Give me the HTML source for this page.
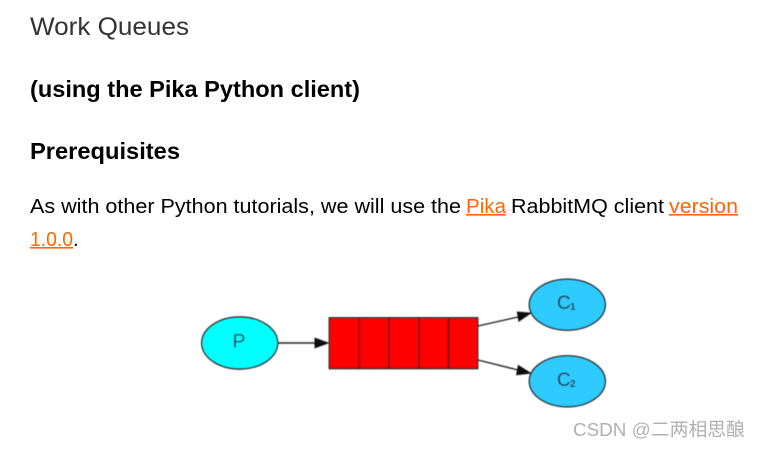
<!DOCTYPE html>
<html><head><meta charset="utf-8"><style>
html,body{margin:0;padding:0;background:#fff;width:760px;height:449px;overflow:hidden}
svg{display:block}
text{font-family:"Liberation Sans","Noto Sans CJK SC",sans-serif}
</style></head><body>
<svg width="760" height="449" viewBox="0 0 760 449" xmlns="http://www.w3.org/2000/svg">
<defs><filter id="b" x="-5%" y="-5%" width="110%" height="110%"><feGaussianBlur stdDeviation="0.4"/></filter></defs>
<rect width="760" height="449" fill="#fff"/>
<text x="30" y="35" font-size="25" fill="#333" textLength="159" lengthAdjust="spacingAndGlyphs">Work Queues</text>
<text x="30" y="97" font-size="23" font-weight="bold" fill="#000" textLength="330" lengthAdjust="spacingAndGlyphs">(using the Pika Python client)</text>
<text x="30" y="159" font-size="23" font-weight="bold" fill="#000" textLength="150" lengthAdjust="spacingAndGlyphs">Prerequisites</text>
<text x="30" y="213" font-size="20" fill="#000" textLength="431" lengthAdjust="spacingAndGlyphs">As with other Python tutorials, we will use the</text>
<text x="466" y="213" font-size="20" fill="#ff6600" textLength="40" lengthAdjust="spacingAndGlyphs">Pika</text>
<rect x="466" y="214" width="40" height="1.6" fill="#ff6600"/>
<text x="511" y="213" font-size="20" fill="#000" textLength="153" lengthAdjust="spacingAndGlyphs">RabbitMQ client</text>
<text x="669" y="213" font-size="20" fill="#ff6600" textLength="69" lengthAdjust="spacingAndGlyphs">version</text>
<rect x="669" y="214" width="69" height="1.6" fill="#ff6600"/>
<text x="30" y="246" font-size="20" fill="#ff6600" textLength="43" lengthAdjust="spacingAndGlyphs">1.0.0</text>
<rect x="30" y="247" width="43" height="1.6" fill="#ff6600"/>
<text x="73" y="246" font-size="20" fill="#000">.</text>

<g filter="url(#b)">
<g stroke="#222" stroke-width="1.4">
<ellipse cx="239.7" cy="343" rx="38" ry="26" fill="#00ffff"/>
<rect x="329.3" y="317.8" width="148.4" height="50.8" fill="#ff0000"/>
<path d="M359.3 318V368M389 318V368M419 318V368M448.5 318V368" fill="none" stroke="#400"/>
<ellipse cx="567.3" cy="304.7" rx="38" ry="25.5" fill="#2ecbff"/>
<ellipse cx="567.3" cy="381.3" rx="38" ry="25.5" fill="#2ecbff"/>
<path d="M278 343H316M478 326L518 317M478 360L518 370" fill="none"/>
</g>
<g fill="#111">
<polygon points="329.5,343 314.5,337.5 314.5,348.5"/>
<polygon points="532,312.7 516.7,311.5 518.5,322"/>
<polygon points="532,373.5 518,364.8 516,375.2"/>
</g>
<text x="232.5" y="347.5" font-size="19.5" fill="#234">P</text>
<text x="557" y="309" font-size="19" fill="#234">C</text>
<text x="570" y="310" font-size="10" font-weight="bold" fill="#234">1</text>
<text x="557" y="386" font-size="19" fill="#234">C</text>
<text x="570" y="387" font-size="10" font-weight="bold" fill="#234">2</text>
</g>
<text x="573" y="436" font-size="18.5" fill="#b0b0b0" textLength="172" lengthAdjust="spacingAndGlyphs">CSDN @二两相思酿</text>
</svg>
</body></html>
